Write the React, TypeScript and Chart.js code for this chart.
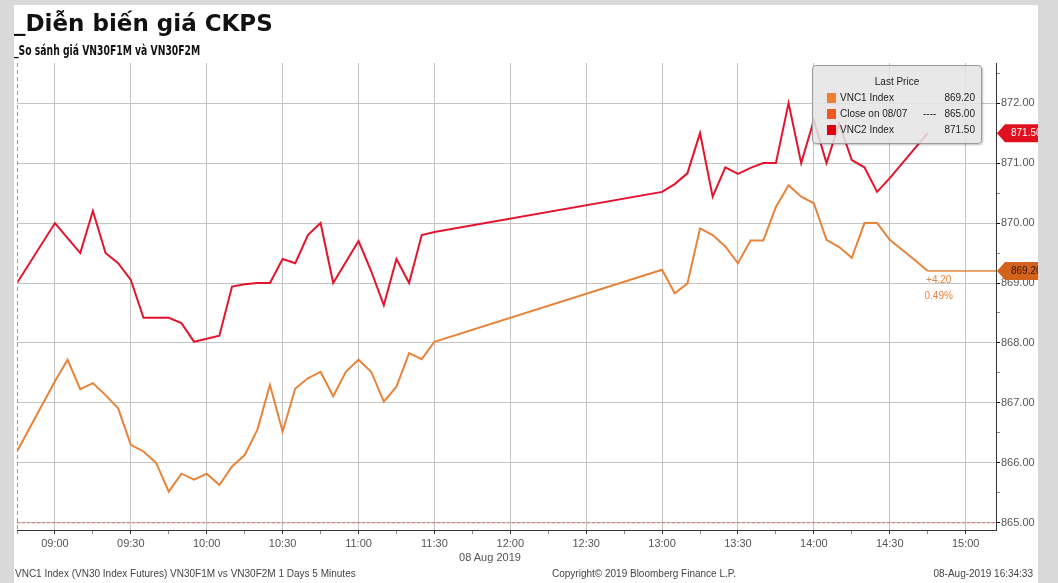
import React, { useEffect, useRef } from "react";
import { Chart, registerables } from "chart.js";

Chart.register(...registerables);

// ---------- data ----------
const times = [
  "08:45",
  "09:00", "09:05", "09:10", "09:15", "09:20", "09:25",
  "09:30", "09:35", "09:40", "09:45", "09:50", "09:55",
  "10:00", "10:05", "10:10", "10:15", "10:20", "10:25",
  "10:30", "10:35", "10:40", "10:45", "10:50", "10:55",
  "11:00", "11:05", "11:10", "11:15", "11:20", "11:25",
  "11:30",
  "13:00", "13:05", "13:10", "13:15", "13:20", "13:25",
  "13:30", "13:35", "13:40", "13:45", "13:50", "13:55",
  "14:00", "14:05", "14:10", "14:15", "14:20", "14:25",
  "14:30", "14:35", "14:40", "14:45",
];

// VNC2 Index (VN30F2M)
const vnc2Values = [
  869.0,
  870.0, 869.75, 869.5, 870.2, 869.5, 869.33,
  869.05, 868.42, 868.42, 868.42, 868.33, 868.02,
  868.07, 868.12, 868.94, 868.98, 869.0, 869.0,
  869.4, 869.33, 869.8, 870.0, 869.0, 869.35,
  869.7, 869.2, 868.63, 869.4, 869.0, 869.8,
  869.85,
  870.52, 870.65, 870.83, 871.5, 870.44, 870.93,
  870.82, 870.92, 871.0, 871.0, 872.0, 871.0,
  871.72, 871.0, 871.66, 871.05, 870.93, 870.52,
  870.75, 871.0, 871.25, 871.5,
];

// VNC1 Index (VN30F1M)
const vnc1Values = [
  866.19,
  867.36, 867.72, 867.23, 867.33, 867.13, 866.91,
  866.3, 866.19, 866.0, 865.52, 865.82, 865.72,
  865.82, 865.63, 865.94, 866.13, 866.55, 867.3,
  866.52, 867.24, 867.41, 867.52, 867.11, 867.52,
  867.72, 867.52, 867.02, 867.27, 867.83, 867.73,
  868.02,
  869.22, 868.83, 868.99, 869.91, 869.8, 869.61,
  869.33, 869.71, 869.71, 870.27, 870.63, 870.44,
  870.33, 869.72, 869.6, 869.42, 870.0, 870.0,
  869.72, 869.55, 869.38, 869.2,
];

const xTickLabels = ["09:00", "09:30", "10:00", "10:30", "11:00", "11:30", "12:00", "12:30", "13:00", "13:30", "14:00", "14:30", "15:00"];
const yTickValues = [865, 866, 867, 868, 869, 870, 871, 872];
const xRangeStart = "08:45";
const xRangeEnd = "15:12";
const yRangeMin = 864.88;
const yRangeMax = 872.67;

const prevClose = 865.0;
const lastVnc1 = 869.2;
const lastVnc2 = 871.5;
const lastTime = "14:45";
const changeText = "+4.20";
const changePctText = "0.49%";

const legendTitle = "Last Price";
const legendRows = [
  { label: "VNC1 Index", dash: "", value: "869.20", color: "#f08030" },
  { label: "Close on 08/07", dash: "----", value: "865.00", color: "#f05a1e" },
  { label: "VNC2 Index", dash: "", value: "871.50", color: "#e00010" },
];

const titleText = "_Diễn biến giá CKPS";
const subtitleText = "_So sánh giá VN30F1M và VN30F2M";
const dateAxisText = "08 Aug 2019";
const footerLeft = "VNC1 Index (VN30 Index Futures) VN30F1M vs VN30F2M 1 Days 5 Minutes";
const footerCenter = "Copyright© 2019 Bloomberg Finance L.P.";
const footerRight = "08-Aug-2019 16:34:33";

// ---------- helpers ----------
const toMin = (s: string) => {
  const [h, m] = s.split(":").map(Number);
  return h * 60 + m;
};

const RED = "#e3142c";
const ORANGE = "#e8833a";
const FONT = '"Liberation Sans", Arial, sans-serif';

export default function App() {
  const canvasRef = useRef<HTMLCanvasElement | null>(null);

  useEffect(() => {
    const canvas = canvasRef.current;
    if (!canvas) return;

    const xMin = toMin(xRangeStart);
    const xMax = toMin(xRangeEnd);
    const majorX = new Set(xTickLabels.map(toMin));
    const labelByMin = new Map(xTickLabels.map((l) => [toMin(l), l] as [number, string]));
    const xTicks: number[] = [];
    xTickLabels.forEach((l) => {
      const m = toMin(l);
      if (m - 15 >= xMin) xTicks.push(m - 15);
      xTicks.push(m);
    });
    const majorY = new Set(yTickValues);
    const yTicks: number[] = [];
    yTickValues.forEach((v) => {
      yTicks.push(v);
      if (v + 0.5 <= yRangeMax) yTicks.push(v + 0.5);
    });

    const overlay = {
      id: "overlay",
      afterDatasetsDraw(chart: any) {
        const { ctx, chartArea, scales } = chart;
        const xs = scales.x;
        const ys = scales.y;
        ctx.save();
        ctx.strokeStyle = "#9a9a9a";
        ctx.lineWidth = 1;
        ctx.setLineDash([4, 3]);
        ctx.beginPath();
        ctx.moveTo(chartArea.left + 0.5, chartArea.top);
        ctx.lineTo(chartArea.left + 0.5, chartArea.bottom);
        ctx.stroke();
        ctx.setLineDash([]);
        const ax = xs.getPixelForValue(toMin(lastTime)) + 11;
        const ay = ys.getPixelForValue(lastVnc1);
        ctx.fillStyle = ORANGE;
        ctx.font = `10px ${FONT}`;
        ctx.textAlign = "center";
        ctx.textBaseline = "middle";
        ctx.fillText(changeText, ax, ay + 9);
        ctx.fillText(changePctText, ax, ay + 25);
        ctx.restore();
      },
      afterDraw(chart: any) {
        const { ctx, chartArea, scales, width } = chart;
        const ys = scales.y;
        const drawTag = (v: number, bg: string, fg: string) => {
          const y = ys.getPixelForValue(v);
          const x0 = chartArea.right + 1;
          ctx.save();
          ctx.fillStyle = bg;
          ctx.beginPath();
          ctx.moveTo(x0, y);
          ctx.lineTo(x0 + 8, y - 9);
          ctx.lineTo(width, y - 9);
          ctx.lineTo(width, y + 9);
          ctx.lineTo(x0 + 8, y + 9);
          ctx.closePath();
          ctx.fill();
          ctx.fillStyle = fg;
          ctx.font = `10px ${FONT}`;
          ctx.textAlign = "left";
          ctx.textBaseline = "middle";
          ctx.fillText(v.toFixed(2), x0 + 14, y + 0.5);
          ctx.restore();
        };
        drawTag(lastVnc2, "#e0101e", "#ffffff");
        drawTag(lastVnc1, "#d2621c", "#3a1500");
      },
    };

    const chart = new Chart(canvas, {
      type: "line",
      data: {
        datasets: [
          {
            label: "Close on 08/07",
            data: [
              { x: xMin, y: prevClose },
              { x: xMax, y: prevClose },
            ],
            borderColor: "rgba(232,80,80,0.8)",
            borderWidth: 1,
            borderDash: [3, 2],
            pointRadius: 0,
          },
          {
            label: "VNC1 last",
            data: [
              { x: toMin(lastTime), y: lastVnc1 },
              { x: xMax, y: lastVnc1 },
            ],
            borderColor: ORANGE,
            borderWidth: 1.5,
            pointRadius: 0,
          },
          {
            label: "VNC1 Index",
            data: times.map((t, i) => ({ x: toMin(t), y: vnc1Values[i] })),
            borderColor: ORANGE,
            borderWidth: 2,
            pointRadius: 0,
            tension: 0,
          },
          {
            label: "VNC2 Index",
            data: times.map((t, i) => ({ x: toMin(t), y: vnc2Values[i] })),
            borderColor: RED,
            borderWidth: 2,
            pointRadius: 0,
            tension: 0,
          },
        ],
      },
      options: {
        animation: false,
        responsive: false,
        maintainAspectRatio: false,
        layout: { padding: { top: 58, left: 0, right: 0, bottom: 0 } },
        plugins: { legend: { display: false }, tooltip: { enabled: false }, title: { display: false } },
        scales: {
          x: {
            type: "linear",
            min: xMin,
            max: xMax,
            afterBuildTicks: (s: any) => {
              s.ticks = xTicks.map((v) => ({ value: v }));
            },
            afterFit: (s: any) => {
              s.height = 53;
            },
            border: { color: "#333", width: 1 },
            grid: {
              color: (c: any) => (c.tick && majorX.has(c.tick.value) ? "#c4c4c4" : "rgba(0,0,0,0)"),
              tickColor: (c: any) => (c.tick && majorX.has(c.tick.value) ? "#333" : "#888"),
              tickLength: 4,
              lineWidth: 1,
            },
            ticks: {
              autoSkip: false,
              maxRotation: 0,
              padding: 3,
              color: "#555",
              font: { family: FONT, size: 11 },
              callback: (v: any) => labelByMin.get(Number(v)) || "",
            },
          },
          y: {
            position: "right",
            min: yRangeMin,
            max: yRangeMax,
            afterBuildTicks: (s: any) => {
              s.ticks = yTicks.map((v) => ({ value: v }));
            },
            afterFit: (s: any) => {
              s.width = 42;
            },
            border: { color: "#333", width: 1 },
            grid: {
              color: (c: any) => (c.tick && majorY.has(c.tick.value) ? "#c4c4c4" : "rgba(0,0,0,0)"),
              tickColor: (c: any) => (c.tick && majorY.has(c.tick.value) ? "#111" : "#888"),
              tickLength: 4,
              lineWidth: 1,
            },
            ticks: {
              autoSkip: false,
              padding: 1,
              color: "#555",
              font: { family: FONT, size: 11 },
              callback: (v: any) => (majorY.has(Number(v)) ? Number(v).toFixed(2) : ""),
            },
          },
        },
      },
      plugins: [overlay],
    } as any);

    return () => {
      chart.destroy();
    };
  }, []);

  const abs = (s: React.CSSProperties): React.CSSProperties => ({ position: "absolute", ...s });

  return (
    <div
      style={{
        position: "fixed",
        left: 0,
        top: 0,
        width: 1058,
        height: 583,
        background: "#d9d9d9",
        overflow: "hidden",
        fontFamily: FONT,
      }}
    >
      <div style={abs({ left: 14, top: 5, width: 1024, height: 578, background: "#ffffff", overflow: "hidden" })}>
        <canvas ref={canvasRef} width={1024} height={578} style={{ position: "absolute", left: 0, top: 0, width: 1024, height: 578 }} />
        <div
          style={abs({
            left: 0,
            top: 7,
            fontFamily: '"DejaVu Sans", sans-serif',
            fontWeight: "bold",
            fontSize: 23,
            lineHeight: "23px",
            color: "#111",
            whiteSpace: "nowrap",
          })}
        >
          {titleText}
        </div>
        <div
          style={abs({
            left: 0,
            top: 38,
            fontFamily: '"DejaVu Sans", sans-serif',
            fontWeight: "bold",
            fontSize: 14,
            lineHeight: "14px",
            color: "#111",
            whiteSpace: "nowrap",
            transform: "scaleX(0.66)",
            transformOrigin: "left top",
          })}
        >
          {subtitleText}
        </div>
        <div style={abs({ left: 426, width: 100, textAlign: "center", top: 546, fontSize: 11, lineHeight: "12px", color: "#555" })}>
          {dateAxisText}
        </div>
        <div style={abs({ left: 1, top: 563, fontSize: 10, lineHeight: "12px", color: "#444", whiteSpace: "nowrap" })}>{footerLeft}</div>
        <div style={abs({ left: 538, top: 563, fontSize: 10, lineHeight: "12px", color: "#444", whiteSpace: "nowrap" })}>{footerCenter}</div>
        <div style={abs({ right: 5, top: 563, fontSize: 10, lineHeight: "12px", color: "#444", whiteSpace: "nowrap" })}>{footerRight}</div>
      </div>
      <div
        style={abs({
          left: 812,
          top: 65,
          width: 168,
          height: 77,
          background: "rgba(228,228,228,0.86)",
          border: "1px solid #9a9a9a",
          borderRadius: 4,
          boxShadow: "1px 1px 2px rgba(0,0,0,0.25)",
          fontSize: 10,
          color: "#222",
        })}
      >
        <div style={abs({ left: 0, width: 168, top: 10, lineHeight: "12px", textAlign: "center" })}>{legendTitle}</div>
        {legendRows.map((r, i) => (
          <div key={r.label} style={abs({ left: 0, top: 26 + i * 16, width: 168, height: 12 })}>
            <div style={abs({ left: 14, top: 1, width: 9, height: 10, background: r.color })} />
            <div style={abs({ left: 27, top: 0, lineHeight: "12px", whiteSpace: "nowrap" })}>{r.label}</div>
            {r.dash ? <div style={abs({ left: 110, top: 0, lineHeight: "12px" })}>{r.dash}</div> : null}
            <div style={abs({ right: 6, top: 0, lineHeight: "12px" })}>{r.value}</div>
          </div>
        ))}
      </div>
    </div>
  );
}
